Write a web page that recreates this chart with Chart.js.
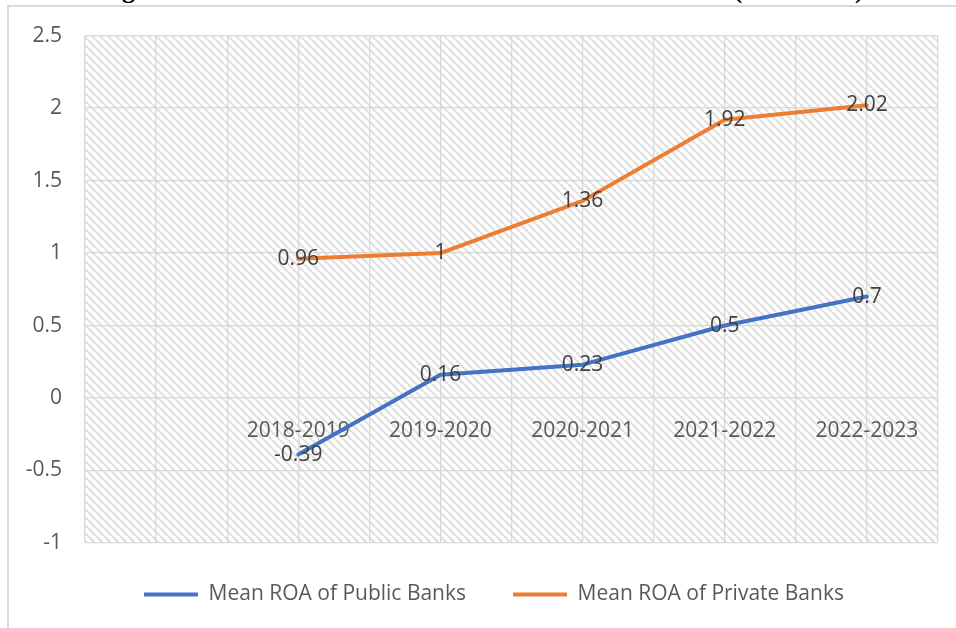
<!DOCTYPE html>
<html>
<head>
<meta charset="utf-8">
<script src="https://cdn.jsdelivr.net/npm/chart.js@4/dist/chart.umd.min.js"></script>
<style>
  html, body { margin: 0; padding: 0; background: #fff; overflow: hidden; }
  body { width: 956px; height: 628px; position: relative; }
  #fig-title {
    position: absolute; left: 99px; top: -23px;
    font: bold 26px/26px "Liberation Serif", "Times New Roman", serif;
    color: #000; white-space: nowrap;
  }
  #frame {
    position: absolute; left: 7px; top: 5px; width: 1000px; height: 700px;
    border-left: 2px solid #d9d9d9; border-top: 2px solid #d9d9d9;
  }
  #roa-chart { position: absolute; left: 0; top: 0; }
</style>
</head>
<body>
<div id="fig-title">Figure 4: Mean ROA of Public and Private Sector Banks (2018-2023)</div>
<div id="frame"></div>
<canvas id="roa-chart" width="956" height="628"></canvas>
<script>
// first slot is an empty category, as in the source sheet
const periods = ["", "2018-2019", "2019-2020", "2020-2021", "2021-2022", "2022-2023"];
const publicROA = [null, -0.39, 0.16, 0.23, 0.5, 0.7];
const privateROA = [null, 0.96, 1, 1.36, 1.92, 2.02];

const FONT = { family: "'Open Sans', sans-serif", size: 21 };
const GRID = "#d9d9d9";

function hatchPattern(ctx) {
    const s = 8;
    const c = document.createElement("canvas");
    c.width = s; c.height = s;
    const g = c.getContext("2d");
    g.fillStyle = "#ffffff";
    g.fillRect(0, 0, s, s);
    g.strokeStyle = "#e2e2e2";
    g.lineWidth = 2.6;
    for (const k of [-s, 0, s]) {
        g.beginPath();
        g.moveTo(k, 0);
        g.lineTo(k + s, s);
        g.stroke();
    }
    return ctx.createPattern(c, "repeat");
}

const plotBackground = {
    id: "plotBackground",
    beforeDraw(chart) {
        const { ctx, chartArea: a } = chart;
        ctx.save();
        ctx.fillStyle = hatchPattern(ctx);
        ctx.fillRect(a.left, a.top, a.right - a.left, a.bottom - a.top);
        ctx.restore();
    }
};

// legend sits a bit right of centre and closer to the plot in the original
const legendShift = {
    id: "legendShift",
    afterLayout(chart) {
        const lg = chart.legend;
        lg.left += 25;
        lg.right += 25;
        lg.top -= 6;
        lg.bottom -= 6;
    }
};

const pointLabels = {
    id: "pointLabels",
    afterDatasetsDraw(chart) {
        const ctx = chart.ctx;
        ctx.save();
        ctx.font = `${FONT.size}px ${FONT.family}`;
        ctx.fillStyle = "#404040";
        ctx.textAlign = "center";
        ctx.textBaseline = "middle";
        chart.data.datasets.forEach((ds, i) => {
            chart.getDatasetMeta(i).data.forEach((pt, j) => {
                const v = ds.data[j];
                if (v === null) return;
                ctx.fillText(String(v), pt.x, pt.y);
            });
        });
        ctx.restore();
    }
};

new Chart(document.getElementById("roa-chart").getContext("2d"), {
    type: "line",
    data: {
        labels: periods,
        datasets: [
            {
                label: "Mean ROA of Public Banks",
                data: publicROA,
                borderColor: "#4472c4",
                backgroundColor: "#4472c4",
                borderWidth: 4,
                pointRadius: 0,
                borderCapStyle: "round",
                borderJoinStyle: "round",
                pointStyle: "line"
            },
            {
                label: "Mean ROA of Private Banks",
                data: privateROA,
                borderColor: "#ed7d31",
                backgroundColor: "#ed7d31",
                borderWidth: 4,
                pointRadius: 0,
                borderCapStyle: "round",
                borderJoinStyle: "round",
                pointStyle: "line"
            }
        ]
    },
    options: {
        responsive: false,
        animation: false,
        layout: { padding: { left: 0, top: 35, right: 18, bottom: 7 } },
        plugins: {
            tooltip: { enabled: false },
            legend: {
                position: "bottom",
                labels: {
                    usePointStyle: true,
                    pointStyleWidth: 54,
                    color: "#595959",
                    font: FONT,
                    padding: 47
                }
            }
        },
        scales: {
            x: {
                type: "category",
                position: { y: 0 },
                offset: true,
                grid: { offset: true, color: GRID, lineWidth: 1.3, drawTicks: false },
                border: { display: false },
                ticks: { color: "#595959", font: FONT, padding: 20, maxRotation: 0, autoSkip: false }
            },
            x2: {
                type: "category",
                position: "bottom",
                offset: true,
                grid: { offset: false, color: GRID, lineWidth: 1.3, drawTicks: false },
                border: { display: false },
                ticks: { display: false }
            },
            y: {
                min: -1,
                max: 2.5,
                ticks: {
                    stepSize: 0.5,
                    color: "#595959",
                    font: FONT,
                    padding: 23,
                    callback: v => String(v)
                },
                grid: { color: GRID, lineWidth: 1.3, drawTicks: false },
                border: { display: false },
                afterFit(scale) { scale.width = 85; }
            }
        }
    },
    plugins: [plotBackground, legendShift, pointLabels]
});
</script>
</body>
</html>
